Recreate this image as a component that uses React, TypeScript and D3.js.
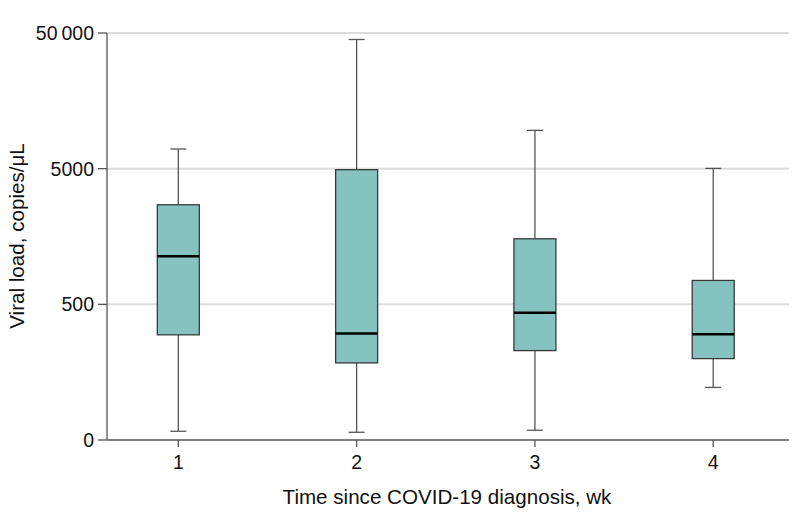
import React from "react";
import * as d3 from "d3";

const weeks = ["1", "2", "3", "4"];
const whiskerLow = [58, 57, 59, 122];
const q1 = [298, 185, 228, 199];
const median = [1132, 305, 433, 301];
const q3 = [2710, 4915, 1521, 750];
const whiskerHigh = [6980, 44770, 9580, 5024];

const yTickValues = [50, 500, 5000, 50000];
const yTickLabels = ["0", "500", "5000", "50\u2009000"];

const W = 798;
const H = 527;
const FONT = "'Liberation Sans', Arial, sans-serif";

export default function App() {
  const x = d3.scaleLinear().domain([0.6, 4.425]).range([107, 789]);
  const y = d3.scaleLog().domain([50, 50000]).range([440, 33]);
  const boxW = 42;
  const capW = 16;

  return (
    <svg
      width={W}
      height={H}
      style={{ position: "absolute", left: 0, top: 0, background: "#fff" }}
      fontFamily={FONT}
    >
      {yTickValues.slice(1).map((v) => (
        <line
          key={"g" + v}
          x1={107}
          x2={789}
          y1={y(v)}
          y2={y(v)}
          stroke="#dcdcdc"
          strokeWidth={2}
        />
      ))}
      <line x1={107} x2={107} y1={y(50000)} y2={y(50)} stroke="#555" strokeWidth={1.3} />
      <line x1={107} x2={789} y1={y(50)} y2={y(50)} stroke="#555" strokeWidth={1.3} />
      {yTickValues.map((v, i) => (
        <g key={"yt" + v}>
          <line x1={98} x2={107} y1={y(v)} y2={y(v)} stroke="#555" strokeWidth={1.3} />
          <text
            x={94}
            y={y(v)}
            dy="0.36em"
            textAnchor="end"
            fontSize={19.5}
            fill="#111"
          >
            {yTickLabels[i]}
          </text>
        </g>
      ))}
      {weeks.map((w, i) => (
        <g key={"xt" + w}>
          <line x1={x(i + 1)} x2={x(i + 1)} y1={y(50)} y2={y(50) + 7} stroke="#555" strokeWidth={1.3} />
          <text
            x={x(i + 1)}
            y={469}
            textAnchor="middle"
            fontSize={19.5}
            fill="#111"
          >
            {w}
          </text>
        </g>
      ))}
      {weeks.map((w, i) => {
        const cx = x(i + 1);
        return (
          <g key={"b" + w}>
            <line x1={cx} x2={cx} y1={y(whiskerHigh[i])} y2={y(q3[i])} stroke="#555" strokeWidth={1.3} />
            <line x1={cx} x2={cx} y1={y(q1[i])} y2={y(whiskerLow[i])} stroke="#555" strokeWidth={1.3} />
            <line x1={cx - capW / 2} x2={cx + capW / 2} y1={y(whiskerHigh[i])} y2={y(whiskerHigh[i])} stroke="#555" strokeWidth={1.3} />
            <line x1={cx - capW / 2} x2={cx + capW / 2} y1={y(whiskerLow[i])} y2={y(whiskerLow[i])} stroke="#555" strokeWidth={1.3} />
            <rect
              x={cx - boxW / 2}
              y={y(q3[i])}
              width={boxW}
              height={y(q1[i]) - y(q3[i])}
              fill="#85c3c0"
              stroke="#3a3a3a"
              strokeWidth={1.3}
            />
            <line x1={cx - boxW / 2} x2={cx + boxW / 2} y1={y(median[i])} y2={y(median[i])} stroke="#000" strokeWidth={2.6} />
          </g>
        );
      })}
      <text
        x={447}
        y={504}
        textAnchor="middle"
        fontSize={20.6}
        fill="#111"
      >
        Time since COVID-19 diagnosis, wk
      </text>
      <text
        transform={`translate(24, 236) rotate(-90)`}
        textAnchor="middle"
        fontSize={20.6}
        fill="#111"
      >
        Viral load, copies/μL
      </text>
    </svg>
  );
}
